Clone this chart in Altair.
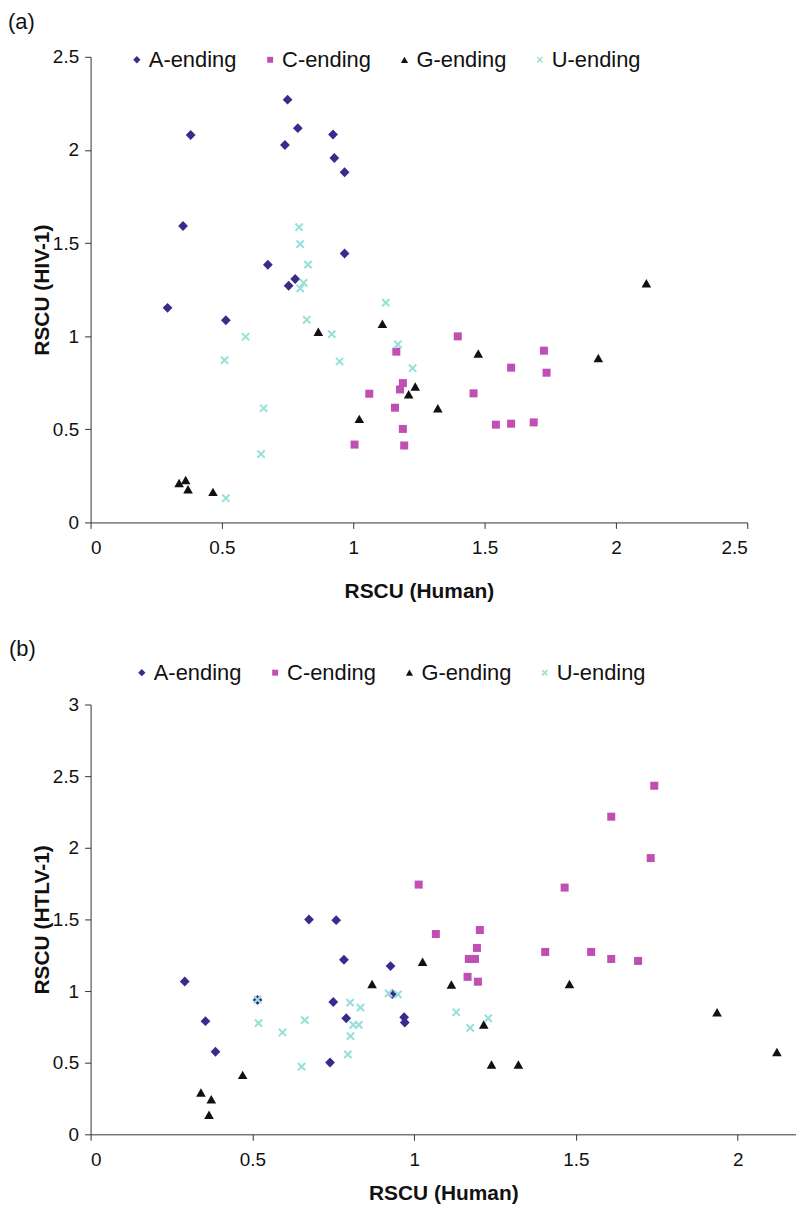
import altair as alt
import pandas as pd

GROUPS = ["A-ending", "C-ending", "G-ending", "U-ending"]
COLORS = ["#3b2a8c", "#c04fb4", "#111111", "#96e0da"]
# marker outlines in symbol units (diamond, square, triangle, x-cross)
SHAPES = [
    "M0,-1.12L1.1,0L0,1.12L-1.1,0Z",
    "M-0.9,-0.9L0.9,-0.9L0.9,0.9L-0.9,0.9Z",
    "M0,-0.95L1.08,0.95L-1.08,0.95Z",
    "M-0.66,-0.98L0.98,0.66L0.66,0.98L-0.98,-0.66Z"
    "M0.98,-0.66L-0.66,0.98L-0.98,0.66L0.66,-0.98Z",
]

# ---- panel (a): RSCU human (x) vs RSCU HIV-1 (y)
a_A_x = [0.750, 0.381, 0.789, 0.923, 0.740, 0.928, 0.967, 0.352, 0.967, 0.675, 0.779, 0.754, 0.293, 0.515]
a_A_y = [2.270, 2.080, 2.117, 2.083, 2.026, 1.957, 1.880, 1.592, 1.444, 1.384, 1.307, 1.271, 1.152, 1.086]
a_C_x = [1.061, 1.005, 1.398, 1.164, 1.726, 1.601, 1.736, 1.189, 1.178, 1.458, 1.159, 1.189, 1.543, 1.601, 1.687, 1.194]
a_C_y = [0.691, 0.418, 0.999, 0.917, 0.922, 0.831, 0.804, 0.748, 0.714, 0.693, 0.616, 0.502, 0.525, 0.530, 0.537, 0.413]
a_G_x = [0.867, 1.111, 1.023, 0.337, 0.362, 0.371, 0.466, 1.476, 1.933, 1.236, 1.211, 1.322, 2.116]
a_G_y = [1.024, 1.067, 0.556, 0.212, 0.228, 0.178, 0.164, 0.907, 0.883, 0.730, 0.688, 0.613, 1.284]
a_U_x = [0.794, 0.798, 0.828, 0.811, 0.798, 1.124, 0.823, 0.918, 0.590, 0.510, 0.948, 0.659, 0.649, 0.515, 1.170, 1.226]
a_U_y = [1.585, 1.494, 1.384, 1.286, 1.257, 1.180, 1.088, 1.011, 0.997, 0.871, 0.864, 0.613, 0.367, 0.130, 0.956, 0.828]

# ---- panel (b): RSCU human (x) vs RSCU HTLV-1 (y)
b_A_x = [0.675, 0.759, 0.291, 0.516, 0.355, 0.386, 0.740, 0.783, 0.927, 0.932, 0.750, 0.790, 0.969, 0.971]
b_A_y = [1.500, 1.495, 1.067, 0.938, 0.790, 0.576, 0.502, 1.218, 1.174, 0.979, 0.924, 0.810, 0.817, 0.780]
b_C_x = [1.742, 1.609, 1.731, 1.014, 1.465, 1.067, 1.203, 1.194, 1.169, 1.188, 1.165, 1.197, 1.405, 1.547, 1.609, 1.692]
b_C_y = [2.433, 2.217, 1.928, 1.743, 1.722, 1.398, 1.426, 1.301, 1.224, 1.224, 1.099, 1.065, 1.273, 1.273, 1.224, 1.210]
b_G_x = [0.470, 0.341, 0.373, 0.366, 1.026, 0.870, 1.115, 1.215, 1.239, 1.322, 1.480, 1.936, 2.121]
b_G_y = [0.415, 0.292, 0.245, 0.137, 1.204, 1.049, 1.046, 0.766, 0.488, 0.488, 1.049, 0.852, 0.574]
b_U_x = [0.516, 0.519, 0.593, 0.662, 0.652, 0.802, 0.834, 0.812, 0.829, 0.803, 0.795, 0.921, 0.950, 1.130, 1.173, 1.229]
b_U_y = [0.940, 0.776, 0.711, 0.797, 0.472, 0.919, 0.884, 0.764, 0.764, 0.685, 0.558, 0.984, 0.977, 0.852, 0.743, 0.810]

a_xticks = [0, 0.5, 1, 1.5, 2, 2.5]
a_yticks = [0, 0.5, 1, 1.5, 2, 2.5]
b_xticks = [0, 0.5, 1, 1.5, 2]
b_yticks = [0, 0.5, 1, 1.5, 2, 2.5, 3]

FONT = "Liberation Sans"


def make_df(series):
    rows = []
    for g, xs, ys in series:
        for x, y in zip(xs, ys):
            rows.append({"group": g, "human": x, "virus": y})
    return pd.DataFrame(rows)


df_a = make_df([("A-ending", a_A_x, a_A_y), ("C-ending", a_C_x, a_C_y),
                ("G-ending", a_G_x, a_G_y), ("U-ending", a_U_x, a_U_y)])
df_b = make_df([("A-ending", b_A_x, b_A_y), ("C-ending", b_C_x, b_C_y),
                ("G-ending", b_G_x, b_G_y), ("U-ending", b_U_x, b_U_y)])


def panel(df, ytitle, xmax, ymax, w, h, xticks, yticks, tag, tag_x, tag_y,
          leg_x, leg_y, xtitle_pad):
    legend = alt.Legend(title=None, orient="none", legendX=leg_x, legendY=leg_y,
                        direction="horizontal",
                        labelFont=FONT, labelFontSize=22, labelColor="#111111",
                        labelOffset=1, columnPadding=22, symbolSize=44,
                        symbolStrokeWidth=0)
    pts = alt.Chart(df).mark_point(filled=True, opacity=1, size=80, strokeWidth=0).encode(
        x=alt.X("human:Q", scale=alt.Scale(domain=[0, xmax], nice=False),
                axis=alt.Axis(values=xticks, format="~g", title="RSCU (Human)",
                              titlePadding=xtitle_pad)),
        y=alt.Y("virus:Q", scale=alt.Scale(domain=[0, ymax], nice=False),
                axis=alt.Axis(values=yticks, format="~g", title=ytitle)),
        shape=alt.Shape("group:N", scale=alt.Scale(domain=GROUPS, range=SHAPES), legend=legend),
        color=alt.Color("group:N", scale=alt.Scale(domain=GROUPS, range=COLORS), legend=legend),
    )
    tag_layer = alt.Chart(pd.DataFrame({"t": [tag]})).mark_text(
        align="left", baseline="top", font=FONT, fontSize=22, color="#111111"
    ).encode(x=alt.value(tag_x), y=alt.value(tag_y), text="t:N")
    return alt.layer(pts, tag_layer).properties(width=w, height=h)


pa = panel(df_a, "RSCU (HIV-1)", 2.5, 2.5, 660, 468, a_xticks, a_yticks,
           "(a)", -83, -45, 35.5, -8, 23)
pb = panel(df_b, "RSCU (HTLV-1)", 2.18, 3, 709, 432, b_xticks, b_yticks,
           "(b)", -82, -66, 40.5, -43, 14)

chart = alt.vconcat(pa, pb, spacing=37, padding=0).resolve_scale(
    shape="independent", color="independent"
).resolve_legend(
    shape="independent", color="independent"
).configure_view(
    stroke=None
).configure_axis(
    grid=False, domainColor="#333333", domainWidth=1, tickColor="#333333",
    tickSize=6, tickWidth=1, labelFont=FONT, labelFontSize=19,
    labelColor="#111111", titleFont=FONT, titleFontSize=21,
    titleFontWeight="bold", titleColor="#111111"
).configure_axisX(labelPadding=10).configure_axisY(labelPadding=6, titlePadding=0)

chart.save("out.html", embed_options={"renderer": "svg", "actions": False})
